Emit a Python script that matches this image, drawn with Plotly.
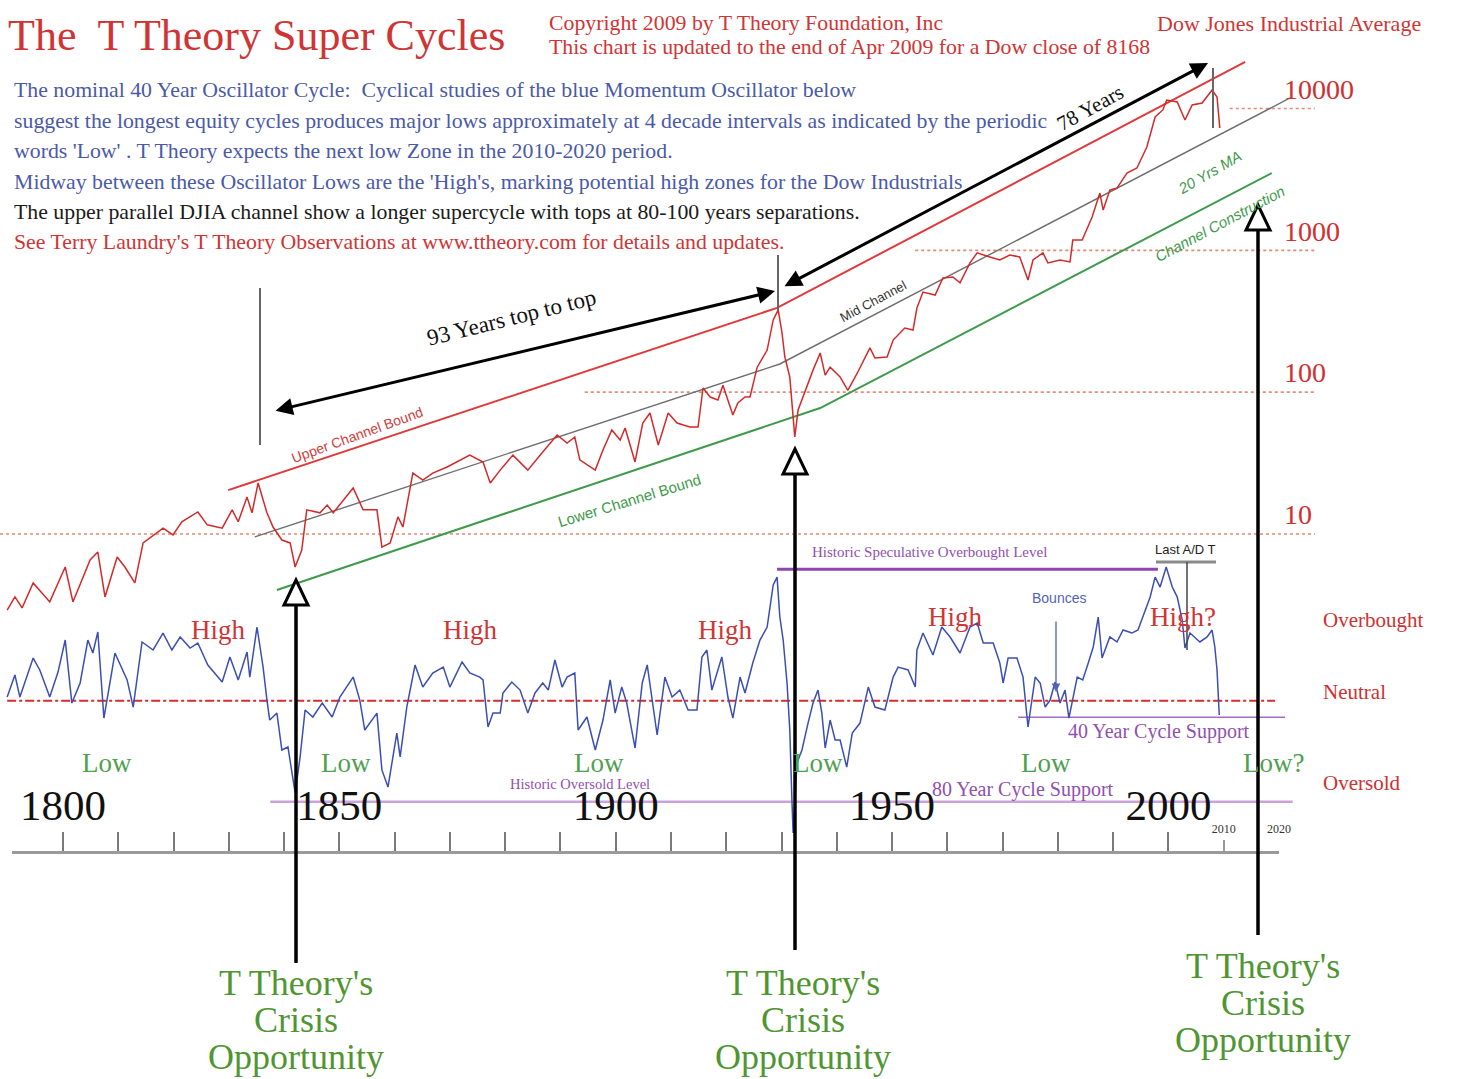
import plotly.graph_objects as go

W, H = 1458, 1079
SERIF = "Liberation Serif"
SANS = "Liberation Sans"

# ---------------- data ----------------
dow_years = [1789.9, 1791.3, 1792.6, 1794.6, 1797.6, 1800.4, 1801.8, 1804.9, 1806.3, 1807.6,
             1809.8, 1811.2, 1813.0, 1814.5, 1818.1, 1819.9, 1821.5, 1824.4, 1826.1, 1828.8,
             1830.6, 1831.7, 1833.3, 1834.2, 1835.3, 1836.9, 1838.0, 1839.6, 1841.1, 1842.0,
             1843.2, 1844.1, 1846.5, 1847.8, 1848.9, 1852.5, 1854.3, 1856.8, 1857.7, 1859.2,
             1860.6, 1861.5, 1863.3, 1865.1, 1866.9, 1869.5, 1873.6, 1875.4, 1876.0, 1877.3,
             1879.1, 1881.4, 1884.1, 1886.8, 1889.4, 1891.2, 1892.6, 1893.5, 1896.3, 1897.7,
             1899.3, 1900.8, 1901.7, 1903.5, 1904.9, 1906.2, 1907.7, 1909.5, 1911.1, 1913.4,
             1914.9, 1915.8, 1917.1, 1918.5, 1919.4, 1921.2, 1922.1, 1923.4, 1924.3, 1925.6,
             1927.4, 1928.5, 1929.4, 1930.1, 1930.6, 1931.5, 1932.1, 1932.4, 1933.0, 1934.3,
             1935.7, 1937.0, 1937.9, 1938.8, 1940.6, 1942.0, 1943.7, 1946.0, 1946.9, 1949.1,
             1950.2, 1952.3, 1953.8, 1954.5, 1955.6, 1957.8, 1959.2, 1961.0, 1962.3, 1964.1,
             1965.4, 1967.7, 1969.5, 1971.3, 1973.1, 1974.6, 1975.5, 1977.3, 1978.2, 1980.4,
             1982.2, 1982.7, 1984.4, 1986.2, 1987.6, 1988.2, 1989.4, 1990.7, 1992.5, 1994.3,
             1996.1, 1997.6, 1999.0, 1999.7, 2001.6, 2003.0, 2004.3, 2006.1, 2007.9, 2008.8,
             2009.3]
dow_values = [2.91, 3.60, 3.01, 4.52, 3.32, 5.85, 3.32, 6.56, 7.46, 3.60,
              6.89, 5.85, 4.52, 8.65, 11.0, 9.84, 12.2, 14.3, 11.6, 11.0,
              14.8, 12.2, 18.2, 14.1, 22.9, 14.1, 11.2, 9.07, 8.65, 5.85,
              7.71, 14.8, 14.1, 16.0, 14.1, 21.1, 14.8, 14.8, 8.09, 8.65,
              13.2, 11.2, 26.9, 24.0, 26.9, 29.7, 36.0, 33.3, 32.2, 22.9,
              28.2, 36.0, 28.2, 37.8, 49.9, 43.8, 48.3, 33.3, 28.2, 39.1,
              54.1, 46.0, 55.9, 32.2, 60.6, 71.3, 42.4, 71.3, 60.6, 56.8,
              56.8, 107, 92.4, 88.1, 112, 69.0, 83.9, 92.4, 92.4, 150,
              198, 323, 380, 261, 177, 128, 66.8, 48.3, 74.8, 103,
              143, 189, 132, 150, 128, 103, 136, 205, 174, 177,
              233, 283, 274, 392, 508, 484, 638, 649, 589, 815,
              959, 898, 855, 927, 898, 618, 855, 959, 815, 855,
              828, 1183, 1183, 1718, 2535, 1923, 2661, 2748, 3508, 3806,
              5357, 8716, 9770, 11482, 11117, 8301, 10592, 10935, 13502, 12050,
              7291]

osc_years = [1789.9, 1791.3, 1792.2, 1794.6, 1795.8, 1797.6, 1799.1, 1800.4, 1801.6, 1803.1,
             1804.5, 1805.4, 1806.3, 1807.4, 1809.4, 1811.6, 1812.7, 1814.3, 1816.3, 1818.1,
             1819.7, 1821.2, 1823.0, 1824.4, 1826.2, 1828.8, 1830.2, 1831.7, 1833.3, 1833.8,
             1835.1, 1836.2, 1836.9, 1837.4, 1838.7, 1839.6, 1840.7, 1842.0, 1842.9, 1843.8,
             1845.2, 1846.9, 1848.7, 1850.1, 1852.5, 1853.7, 1854.6, 1856.8, 1857.7, 1858.8,
             1860.4, 1861.0, 1862.2, 1863.7, 1865.1, 1866.9, 1868.8, 1870.0, 1872.2, 1873.6,
             1875.4, 1876.0, 1876.9, 1877.8, 1879.1, 1879.6, 1881.2, 1882.7, 1884.1, 1885.4,
             1886.8, 1887.8, 1889.0, 1890.3, 1891.2, 1892.6, 1893.2, 1894.8, 1896.3, 1897.7,
             1899.0, 1899.9, 1901.1, 1902.0, 1903.5, 1904.8, 1905.7, 1907.5, 1908.9, 1910.2,
             1911.6, 1913.1, 1914.7, 1915.6, 1916.5, 1917.4, 1919.2, 1920.3, 1921.2, 1922.5,
             1923.4, 1924.8, 1926.1, 1927.4, 1928.5, 1929.2, 1929.7, 1930.3, 1931.0, 1931.5,
             1931.9, 1932.1, 1932.8, 1933.7, 1934.8, 1935.7, 1936.6, 1937.3, 1937.9, 1938.8,
             1939.7, 1940.6, 1941.8, 1942.8, 1944.2, 1945.7, 1946.9, 1948.7, 1950.2, 1951.1,
             1952.9, 1954.2, 1954.5, 1955.6, 1957.4, 1959.0, 1960.5, 1962.3, 1964.1, 1965.4,
             1966.5, 1968.3, 1969.5, 1970.1, 1971.0, 1972.6, 1973.7, 1974.6, 1975.9, 1976.8,
             1977.7, 1978.6, 1979.5, 1980.4, 1981.3, 1982.0, 1983.5, 1984.5, 1985.5, 1986.4,
             1987.3, 1988.0, 1989.4, 1990.7, 1991.8, 1993.4, 1994.5, 1995.4, 1996.7, 1997.6,
             1998.5, 1999.6, 2000.7, 2001.6, 2002.5, 2003.0, 2003.9, 2005.7, 2007.0, 2007.9,
             2008.4, 2008.8, 2009.2]
osc_values = [2.8, 19.6, 2.8, 32.5, 23.4, 2.8, 21.8, 46.2, -1.8, 13.5,
              46.2, 36.3, 52.3, -13.2, 36.3, 15.8, -4.8, 44.7, 38.6, 51.5,
              38.6, 48.5, 40.1, 43.9, 27.2, 14.2, 33.3, 15.8, 37.1, 18.0,
              56.1, 25.6, 0.5, -14.7, -9.4, -37.5, -35.2, -70.2, -42.8, -7.1,
              -12.4, -1.8, -12.4, 2.8, 18.0, 0.5, -22.3, -9.4, -52.7, -65.7,
              -24.6, -42.8, -4.8, 27.2, 10.4, 21.1, 25.6, 10.4, 29.5, 21.1,
              18.0, 15.8, -20.0, -9.4, -9.4, 5.9, 14.2, 8.1, -9.4, 5.9,
              13.5, 8.1, 31.0, 10.4, 18.0, 21.1, -22.3, -12.4, -37.5, -14.7,
              15.8, -9.4, 10.4, -1.8, -36.0, 13.5, 27.2, -26.1, 18.0, 2.8,
              8.1, -7.1, -7.1, 33.3, 38.6, 8.1, 33.3, 2.8, -13.2, 18.0,
              5.9, 28.7, 46.2, 56.1, 88.1, 94.1, 63.7, 46.2, 13.5, -22.3,
              -77.9, -100.7, -47.4, -37.5, -17.0, -1.8, 8.1, -9.4, -36.0, -14.7,
              -29.9, -29.9, -50.5, -24.6, -17.0, 10.4, -4.8, -7.1, 18.0, 25.6,
              23.4, 10.4, 38.6, 51.5, 34.8, 56.1, 48.5, 36.3, 56.1, 59.1,
              43.9, 43.9, 28.7, 13.5, 32.5, 32.5, 18.0, -20.0, 18.0, 13.5,
              -4.8, 0.5, 14.2, -1.8, 8.1, -13.2, 18.0, 15.8, 28.7, 40.9,
              63.7, 32.5, 48.5, 44.7, 53.8, 51.5, 53.8, 63.7, 78.9, 94.1,
              86.5, 101.7, 86.5, 78.9, 61.4, 40.1, 51.5, 44.7, 48.5, 53.8,
              40.9, 23.4, -10.9]

# channel lines (year, Dow value)
upper_years = [1829.9, 1929.2, 2013.9]
upper_values = [20.4, 393, 21300]
mid_years = [1834.7, 1929.7, 2022.0]
mid_values = [9.53, 158, 11860]
lower_years = [1838.7, 1937.0, 2018.7]
lower_values = [4.03, 77.3, 3508]

# dotted Dow reference levels: (value, start year, end year)
dow_levels = [10, 100, 1000, 10000]
dow_level_start = [1788.6, 1894.4, 1954.2, 2011.1]
dow_level_end = [2026.5, 2026.5, 2026.5, 2026.5]
dow_tick_text = ["10", "100", "1000", "10000"]

# oscillator reference levels
neutral_level = 0
neutral_span = [1789.9, 2019.3]
overbought_level = 100
overbought_span = [1929.2, 1998.1]
oversold_level = -76.9
oversold_span = [1837.5, 2022.5]
support40_level = -12.6
support40_span = [1972.8, 2021.1]

osc_tick_vals = [61.4, 6.6, -62.6]
osc_tick_text = ["Overbought", "Neutral", "Oversold"]

decade_ticks = list(range(1800, 2001, 10))
minor_ticks = [2010, 2020]
big_year_labels = [1800, 1850, 1900, 1950, 2000]
small_year_labels = [2010, 2020]

# ---------------- geometry helpers ----------------
PXY = 5.527            # pixels per year
YEAR0 = 1788.601       # year at left edge
x_range = [YEAR0, YEAR0 + W / PXY]
dow_range = [-2.8426, 4.7650]
osc_range = [-287.9, 533.3]


def px(x):
    return x / W


def py(y):
    return 1 - y / H


fig = go.Figure()

# dotted reference lines for the Dow
for v, a, b in zip(dow_levels, dow_level_start, dow_level_end):
    fig.add_trace(go.Scatter(x=[a, b], y=[v, v], mode="lines", xaxis="x", yaxis="y",
                             line=dict(color="#e48a76", width=1.6, dash="dot"),
                             hoverinfo="skip", showlegend=False))

# channels
fig.add_trace(go.Scatter(x=upper_years, y=upper_values, mode="lines", xaxis="x", yaxis="y",
                         line=dict(color="#e0393c", width=2), showlegend=False, hoverinfo="skip"))
fig.add_trace(go.Scatter(x=mid_years, y=mid_values, mode="lines", xaxis="x", yaxis="y",
                         line=dict(color="#6e6e6e", width=1.4), showlegend=False, hoverinfo="skip"))
fig.add_trace(go.Scatter(x=lower_years, y=lower_values, mode="lines", xaxis="x", yaxis="y",
                         line=dict(color="#3e9a4c", width=2), showlegend=False, hoverinfo="skip"))

# Dow series
fig.add_trace(go.Scatter(x=dow_years, y=dow_values, mode="lines", xaxis="x", yaxis="y",
                         line=dict(color="#d22a2a", width=1.5), showlegend=False, name="DJIA"))

# oscillator levels
def osc_level(level, span, color, width, dash="solid"):
    fig.add_trace(go.Scatter(x=span, y=[level, level], mode="lines", xaxis="x", yaxis="y2",
                             line=dict(color=color, width=width, dash=dash),
                             showlegend=False, hoverinfo="skip"))


osc_level(oversold_level, oversold_span, "#c9a3d9", 2.5)
osc_level(support40_level, support40_span, "#a46cc0", 1.6)
osc_level(overbought_level, overbought_span, "#8e44b2", 3)
osc_level(neutral_level, neutral_span, "#d82c2c", 2, "dashdot")

# oscillator
fig.add_trace(go.Scatter(x=osc_years, y=osc_values, mode="lines", xaxis="x", yaxis="y2",
                         line=dict(color="#3b4fb3", width=1.5), showlegend=False, name="Oscillator"))

# dummy traces so the extra year axes get drawn
for ax in ["x2", "x3", "x4"]:
    fig.add_trace(go.Scatter(x=[2000], y=[None], xaxis=ax, yaxis="y2", mode="lines",
                             showlegend=False, hoverinfo="skip"))

# ---------------- shapes ----------------
shapes = []


def seg(x0, y0, x1, y1, color, width):
    shapes.append(dict(type="line", xref="paper", yref="paper", x0=px(x0), y0=py(y0),
                       x1=px(x1), y1=py(y1), line=dict(color=color, width=width), layer="above"))


seg(260, 288, 260, 445, "#666666", 2)
seg(778, 255, 778, 310, "#666666", 2)
seg(1213, 68, 1213, 128, "#666666", 2)
seg(1156, 562, 1216, 562, "#8a8a8a", 3)
seg(1187, 562, 1187, 650, "#444444", 1.5)

for xc, tip, bottom in [(296, 580, 963), (795, 449, 950), (1258, 205, 935)]:
    seg(xc, tip + 25, xc, bottom, "#000000", 3.5)
    path = "M {:.5f},{:.5f} L {:.5f},{:.5f} L {:.5f},{:.5f} Z".format(
        px(xc), py(tip), px(xc - 12), py(tip + 25), px(xc + 12), py(tip + 25))
    shapes.append(dict(type="path", xref="paper", yref="paper", path=path,
                       fillcolor="white", line=dict(color="black", width=3), layer="above"))

# ---------------- annotations ----------------
anns = []


def txt(text, x, y, size, color, family=SERIF, xanchor="left", angle=0, italic=False):
    anns.append(dict(text=text, x=px(x), y=py(y), xref="paper", yref="paper",
                     xanchor=xanchor, yanchor="middle", showarrow=False, textangle=angle,
                     font=dict(family=family, size=size, color=color,
                               style="italic" if italic else "normal")))


RED = "#cf3535"
BLUE = "#4b5aa8"
PURPLE = "#9050b0"
GREEN = "#4fa050"
BIG_GREEN = "#4f9632"

txt("The\u00a0 T Theory Super Cycles", 6, 35, 44, RED)
txt("Copyright 2009 by T Theory Foundation, Inc", 547, 23, 21.8, RED)
txt("This chart is updated to the end of Apr 2009 for a Dow close of 8168", 547, 47, 21.8, RED)
txt("Dow Jones Industrial Average", 1155, 23, 22, RED)

PARA = 21.8
txt("The nominal 40 Year Oscillator Cycle:\u00a0 Cyclical studies of the blue Momentum Oscillator below", 12, 90, PARA, BLUE)
txt("suggest the longest equity cycles produces major lows approximately at 4 decade intervals as indicated by the periodic", 12, 121, PARA, BLUE)
txt("words 'Low' . T Theory expects the next low Zone in the 2010-2020 period.", 12, 151, PARA, BLUE)
txt("Midway between these Oscillator Lows are the 'High's, marking potential high zones for the Dow Industrials", 12, 182, PARA, BLUE)
txt("The upper parallel DJIA channel show a longer supercycle with tops at 80-100 years separations.", 12, 212, PARA, "#1a1a1a")
txt("See Terry Laundry's T Theory Observations at www.ttheory.com for details and updates.", 12, 242, PARA, RED)

txt("93 Years top to top", 512, 318, 23, "#111111", xanchor="center", angle=-14)
txt("78 Years", 1090, 108, 21, "#111111", xanchor="center", angle=-29)
txt("Upper Channel Bound", 357, 435, 14, "#d04040", SANS, "center", -20)
txt("Lower Channel Bound", 629, 500, 15, "#3e9a4c", SANS, "center", -17)
txt("Mid Channel", 873, 302, 13, "#333333", SANS, "center", -28)
txt("20 Yrs MA", 1209, 172, 15, "#3e9a4c", SANS, "center", -30, True)
txt("Channel Construction", 1220, 224, 15, "#3e9a4c", SANS, "center", -28, True)

for x, y, t in [(218, 630, "High"), (471, 630, "High"), (725, 630, "High"),
                (955, 617, "High"), (1183, 617, "High?")]:
    txt(t, x, y, 27, RED, xanchor="center")
for x, y, t in [(107, 763, "Low"), (346, 763, "Low"), (599, 763, "Low"),
                (818, 763, "Low"), (1046, 763, "Low"), (1273, 763, "Low?")]:
    txt(t, x, y, 27, GREEN, xanchor="center")

txt("Historic Speculative Overbought Level", 810, 552, 15, PURPLE)
txt("Historic Oversold Level", 508, 784, 14.5, PURPLE)
txt("80 Year Cycle Support", 930, 789, 20, PURPLE)
txt("40 Year Cycle Support", 1066, 732, 20, PURPLE)
txt("Last A/D T", 1153, 549, 13, "#222222", SANS)
txt("Bounces", 1030, 598, 14, "#5563b5", SANS)

for xc, ys in [(296, [983, 1020, 1057]), (803, [983, 1020, 1057]), (1263, [966, 1003, 1040])]:
    for t, y in zip(["T Theory's", "Crisis", "Opportunity"], ys):
        txt(t, xc, y, 36, BIG_GREEN, xanchor="center")

# arrows
def arrow(x_head, y_head, x_tail, y_tail, width, color, both=True, size=1.0):
    anns.append(dict(text="", x=px(x_head), y=py(y_head), xref="paper", yref="paper",
                     ax=x_tail - x_head, ay=y_tail - y_head, axref="pixel", ayref="pixel",
                     showarrow=True, arrowhead=2, arrowsize=size, arrowwidth=width,
                     arrowcolor=color, arrowside="end+start" if both else "end",
                     startarrowhead=2, startarrowsize=size))


arrow(775, 291, 274, 411, 3, "#000000", size=1.15)
arrow(1208, 63, 783, 287, 3, "#000000", size=1.15)
arrow(1056, 692, 1056, 620, 1.3, "#5563b5", both=False, size=1.3)

# ---------------- layout ----------------
fig.update_layout(
    width=W, height=H, autosize=False,
    margin=dict(l=0, r=0, t=0, b=0, pad=0),
    paper_bgcolor="white", plot_bgcolor="rgba(0,0,0,0)",
    showlegend=False,
    shapes=shapes, annotations=anns,
    xaxis=dict(domain=[0, 1], range=x_range, visible=False, fixedrange=True),
    xaxis2=dict(domain=[12 / W, 1279 / W], range=[YEAR0 + 12 / PXY, YEAR0 + 1279 / PXY],
                anchor="free", position=py(852), side="bottom",
                showline=True, linecolor="#9a9a9a", linewidth=3,
                ticks="inside", ticklen=19, tickwidth=2, tickcolor="#7a7a7a",
                tickmode="array", tickvals=decade_ticks, showticklabels=False,
                minor=dict(tickvals=minor_ticks, ticks="inside", ticklen=11, tickwidth=2,
                           tickcolor="#9a9a9a"),
                showgrid=False, zeroline=False, fixedrange=True),
    xaxis3=dict(domain=[0, 1], range=x_range, anchor="free", position=py(776), side="bottom",
                showline=False, ticks="", tickmode="array", tickvals=big_year_labels,
                ticktext=[str(v) for v in big_year_labels],
                tickfont=dict(family=SERIF, size=43, color="#111111"),
                showgrid=False, zeroline=False, fixedrange=True),
    xaxis4=dict(domain=[0, 1], range=x_range, anchor="free", position=py(820), side="bottom",
                showline=False, ticks="", tickmode="array", tickvals=small_year_labels,
                ticktext=[str(v) for v in small_year_labels],
                tickfont=dict(family=SERIF, size=12, color="#333333"),
                showgrid=False, zeroline=False, fixedrange=True),
    yaxis=dict(domain=[0, 1], type="log", range=dow_range, anchor="free", position=1283 / W,
               side="right", showline=False, ticks="", showgrid=False, zeroline=False,
               tickmode="array", tickvals=dow_levels, ticktext=dow_tick_text,
               ticklabelposition="outside top",
               tickfont=dict(family=SERIF, size=28, color="#d03030"), fixedrange=True),
    yaxis2=dict(range=osc_range, overlaying="y", anchor="free", position=1322 / W,
                side="right", showline=False, ticks="", showgrid=False, zeroline=False,
                tickmode="array", tickvals=osc_tick_vals, ticktext=osc_tick_text,
                tickfont=dict(family=SERIF, size=21, color="#d03030"), fixedrange=True),
)

fig.write_html("out.html", config={"displayModeBar": False},
               post_script="document.body.style.margin='0';document.body.style.overflow='hidden';")
